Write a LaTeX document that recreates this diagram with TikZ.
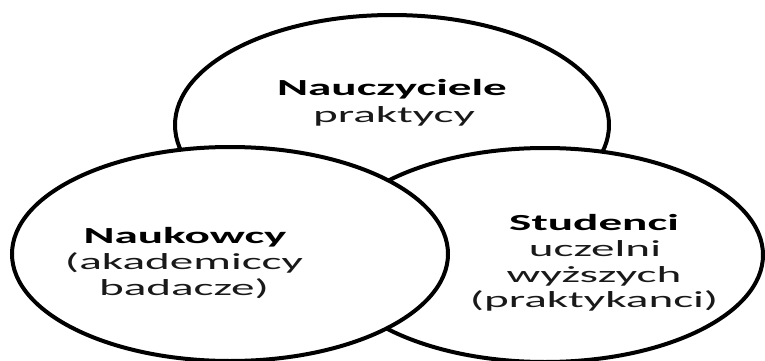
\documentclass[tikz,border=0pt]{standalone}
\usepackage{fontspec}
\setmainfont{Carlito}[FakeStretch=2.05]
\usetikzlibrary{shapes.geometric}
\begin{document}
\begin{tikzpicture}[x=1pt,y=-1pt,
  ring/.style={ellipse, draw=black, line width=4pt, fill=white, inner sep=0pt,
    minimum width=436pt, minimum height=214pt},
  lbl/.style={anchor=base, inner sep=0pt, font=\fontsize{23}{27}\selectfont, text=black!90},
  hdr/.style={lbl, font=\fontsize{23}{27}\selectfont\bfseries, text=black}]
\useasboundingbox (0,0) rectangle (765,361);
\node[ring, minimum height=220pt, minimum width=434pt] (top) at (392,125) {};
\node[ring] (right) at (545,255) {};
\node[ring] (left) at (230,254) {};
% top labels
\node[hdr] (t1) at (392,95) {Nauczyciele};
\node[lbl] (t2) at (394,122) {praktycy};
% left labels
\node[hdr] (l1) at (185,243) {Naukowcy};
\node[lbl] (l2) at (184,269) {(akademiccy};
\node[lbl] (l3) at (184,295) {badacze)};
% right labels
\node[hdr] (r1) at (594,230) {Studenci};
\node[lbl] (r2) at (595,256) {uczelni};
\node[lbl] (r3) at (594,282) {wyższych};
\node[lbl] (r4) at (594,307) {(praktykanci)};
\end{tikzpicture}
\end{document}
